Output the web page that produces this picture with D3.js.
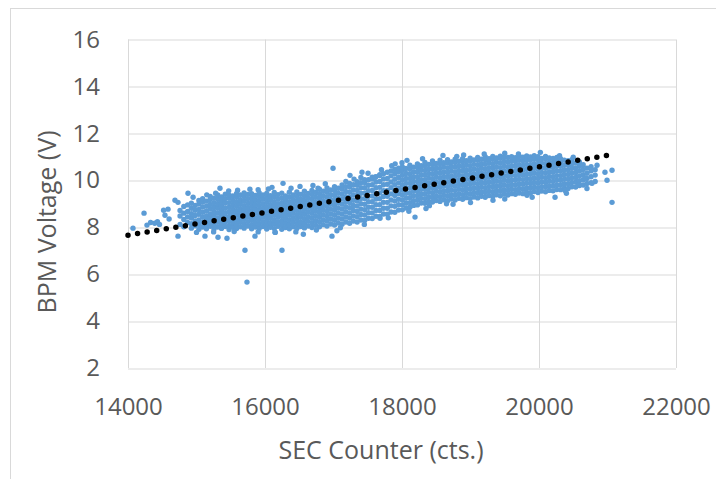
<!DOCTYPE html>
<html>
<head>
<meta charset="utf-8">
<script src="https://cdn.jsdelivr.net/npm/d3@7"></script>
<style>
  body { margin: 0; background: #fff; }
  text { font-family: "Open Sans", sans-serif; fill: #595959; }
</style>
</head>
<body>
<div id="chart"></div>
<script>
// x ticks / y ticks
var xTicks = [14000, 16000, 18000, 20000, 22000];
var yTicks = [2, 4, 6, 8, 10, 12, 14, 16];

// dense part of the cloud, read column by column: "counter|voltages..."
var cloudColumns = [
  "14760|8.12 8.48 8.71",
  "14815|8.02 8.33 8.60 8.88",
  "14870|8.20 8.44 8.67 8.95",
  "14925|7.96 8.15 8.39 8.58 8.81 9.02",
  "14980|8.06 8.27 8.50 8.72 8.93",
  "15035|7.91 8.12 8.31 8.55 8.76 8.99 9.14",
  "15090|8.01 8.22 8.43 8.64 8.86 9.07 9.22",
  "15145|7.93 8.09 8.29 8.48 8.69 8.90 9.11",
  "15200|8.04 8.19 8.38 8.57 8.78 8.97 9.18 9.31",
  "15255|7.92 8.11 8.30 8.50 8.67 8.86 9.05 9.24",
  "15310|8.01 8.21 8.40 8.60 8.81 9.00 9.19 9.38",
  "15365|7.95 8.14 8.33 8.52 8.71 8.91 9.10 9.29",
  "15420|8.03 8.23 8.43 8.62 8.82 9.03 9.22 9.41",
  "15475|7.90 8.08 8.27 8.46 8.66 8.85 9.05 9.25 9.36",
  "15530|8.00 8.18 8.37 8.57 8.76 8.95 9.14 9.33",
  "15585|7.94 8.12 8.31 8.51 8.70 8.89 9.08 9.28 9.44",
  "15640|8.02 8.21 8.41 8.60 8.79 8.98 9.17 9.37",
  "15695|7.96 8.15 8.34 8.54 8.73 8.92 9.12 9.31 9.46",
  "15750|8.05 8.24 8.44 8.63 8.82 9.01 9.21 9.40",
  "15805|7.93 8.11 8.30 8.49 8.69 8.88 9.07 9.26 9.43",
  "15860|8.01 8.20 8.39 8.59 8.78 8.97 9.16 9.35",
  "15915|7.95 8.14 8.33 8.53 8.72 8.91 9.10 9.30 9.47",
  "15970|8.03 8.22 8.42 8.61 8.80 8.99 9.19 9.38",
  "16025|7.92 8.10 8.29 8.48 8.68 8.87 9.06 9.25 9.44",
  "16080|8.00 8.19 8.38 8.58 8.77 8.96 9.15 9.34",
  "16135|7.94 8.13 8.32 8.52 8.71 8.90 9.09 9.29 9.48",
  "16190|8.04 8.23 8.43 8.62 8.81 9.00 9.20 9.39",
  "16245|7.91 8.09 8.28 8.47 8.67 8.86 9.05 9.24 9.45",
  "16300|7.99 8.18 8.37 8.57 8.76 8.95 9.14 9.33",
  "16355|7.93 8.12 8.31 8.51 8.70 8.89 9.08 9.28 9.49",
  "16410|8.02 8.21 8.41 8.60 8.79 8.98 9.18 9.37",
  "16465|7.95 8.14 8.33 8.53 8.72 8.92 9.11 9.31 9.50",
  "16520|8.03 8.22 8.42 8.62 8.81 9.01 9.20 9.40",
  "16575|7.97 8.16 8.36 8.55 8.75 8.95 9.14 9.34 9.53",
  "16630|8.05 8.25 8.45 8.65 8.85 9.04 9.24 9.44",
  "16685|7.99 8.19 8.39 8.59 8.79 8.99 9.19 9.39 9.57",
  "16740|8.08 8.28 8.48 8.68 8.88 9.08 9.28 9.48",
  "16795|8.02 8.22 8.42 8.63 8.83 9.03 9.23 9.43 9.62",
  "16850|8.11 8.31 8.52 8.72 8.93 9.13 9.33 9.53",
  "16905|8.05 8.26 8.46 8.67 8.88 9.08 9.29 9.49 9.67",
  "16960|8.14 8.35 8.56 8.77 8.98 9.18 9.39 9.59",
  "17015|8.09 8.30 8.51 8.72 8.93 9.14 9.35 9.56 9.73",
  "17070|8.18 8.39 8.61 8.82 9.03 9.24 9.45 9.66",
  "17125|8.13 8.35 8.56 8.78 8.99 9.21 9.42 9.63 9.80",
  "17180|8.22 8.44 8.66 8.87 9.09 9.30 9.52 9.73",
  "17235|8.17 8.39 8.61 8.83 9.05 9.27 9.49 9.71 9.87",
  "17290|8.26 8.48 8.71 8.93 9.15 9.37 9.59 9.81",
  "17345|8.22 8.45 8.67 8.90 9.12 9.35 9.57 9.79 9.94",
  "17400|8.31 8.54 8.77 9.00 9.22 9.45 9.68 9.90",
  "17455|8.29 8.52 8.75 8.98 9.22 9.45 9.68 9.91 10.02",
  "17510|8.38 8.62 8.85 9.09 9.32 9.56 9.79 10.02",
  "17565|8.37 8.61 8.85 9.09 9.33 9.57 9.81 10.05 10.13",
  "17620|8.47 8.71 8.96 9.20 9.44 9.68 9.93 10.15",
  "17675|8.46 8.71 8.96 9.21 9.46 9.70 9.95 10.20 10.24",
  "17730|8.56 8.81 9.06 9.31 9.56 9.81 10.06 10.28",
  "17785|8.55 8.81 9.06 9.32 9.57 9.83 10.08 10.34",
  "17840|8.65 8.91 9.16 9.42 9.68 9.93 10.19 10.40",
  "17895|8.64 8.89 9.12 9.35 9.58 9.81 10.04 10.27 10.46",
  "17950|8.73 8.96 9.19 9.43 9.66 9.89 10.12 10.35 10.52",
  "18005|8.74 8.95 9.16 9.37 9.58 9.79 10.00 10.21 10.42 10.57",
  "18060|8.82 9.03 9.24 9.45 9.66 9.87 10.08 10.29 10.50",
  "18115|8.85 9.05 9.26 9.46 9.67 9.87 10.08 10.28 10.49 10.64",
  "18170|8.93 9.13 9.34 9.54 9.74 9.95 10.15 10.35 10.56",
  "18225|8.95 9.15 9.35 9.55 9.75 9.95 10.15 10.35 10.55 10.70",
  "18280|9.03 9.23 9.43 9.63 9.83 10.03 10.23 10.43 10.62",
  "18335|9.02 9.22 9.42 9.62 9.82 10.02 10.22 10.42 10.62 10.76",
  "18390|9.10 9.29 9.49 9.69 9.89 10.09 10.29 10.49 10.68",
  "18445|9.07 9.27 9.47 9.67 9.87 10.07 10.27 10.47 10.67 10.82",
  "18500|9.14 9.33 9.53 9.73 9.93 10.13 10.33 10.53 10.72",
  "18555|9.10 9.30 9.50 9.70 9.90 10.10 10.30 10.50 10.70 10.86",
  "18610|9.17 9.36 9.56 9.76 9.96 10.16 10.36 10.56 10.75",
  "18665|9.13 9.33 9.53 9.73 9.93 10.13 10.33 10.53 10.73 10.88",
  "18720|9.20 9.39 9.59 9.79 9.99 10.19 10.39 10.59 10.78",
  "18775|9.16 9.36 9.56 9.76 9.96 10.16 10.36 10.56 10.76 10.90",
  "18830|9.23 9.42 9.62 9.82 10.02 10.22 10.42 10.62 10.81",
  "18885|9.19 9.39 9.59 9.79 9.99 10.19 10.39 10.59 10.79 10.92",
  "18940|9.26 9.45 9.65 9.85 10.05 10.25 10.45 10.65 10.84",
  "18995|9.22 9.42 9.62 9.82 10.02 10.22 10.42 10.62 10.82 10.94",
  "19050|9.29 9.48 9.68 9.88 10.08 10.28 10.48 10.68 10.87",
  "19105|9.25 9.45 9.65 9.85 10.05 10.25 10.45 10.65 10.85 10.97",
  "19160|9.32 9.51 9.71 9.91 10.11 10.31 10.51 10.71 10.90",
  "19215|9.28 9.48 9.68 9.88 10.08 10.28 10.48 10.68 10.88 11.00",
  "19270|9.35 9.54 9.74 9.94 10.14 10.34 10.54 10.74 10.92",
  "19325|9.31 9.51 9.71 9.91 10.11 10.31 10.51 10.71 10.91 11.02",
  "19380|9.38 9.57 9.77 9.97 10.17 10.37 10.57 10.77 10.95",
  "19435|9.34 9.54 9.74 9.94 10.14 10.34 10.54 10.74 10.94 11.03",
  "19490|9.41 9.60 9.80 10.00 10.20 10.40 10.60 10.80 10.98",
  "19545|9.37 9.57 9.77 9.97 10.17 10.37 10.57 10.77 10.97",
  "19600|9.43 9.62 9.82 10.02 10.22 10.42 10.62 10.82 11.01",
  "19655|9.40 9.60 9.80 10.00 10.20 10.40 10.60 10.80 10.96",
  "19710|9.46 9.65 9.85 10.05 10.25 10.45 10.65 10.85 11.03",
  "19765|9.43 9.63 9.83 10.03 10.23 10.43 10.63 10.83 10.98",
  "19820|9.49 9.68 9.88 10.08 10.28 10.48 10.68 10.88 11.04",
  "19875|9.46 9.66 9.86 10.06 10.26 10.46 10.66 10.86 10.99",
  "19930|9.52 9.71 9.91 10.11 10.31 10.51 10.71 10.91 11.05",
  "19985|9.48 9.68 9.88 10.08 10.28 10.48 10.68 10.88 11.00",
  "20040|9.54 9.73 9.93 10.13 10.33 10.53 10.73 10.93",
  "20095|9.51 9.71 9.91 10.11 10.31 10.51 10.71 10.91 11.02",
  "20150|9.57 9.76 9.96 10.16 10.36 10.56 10.76 10.95",
  "20205|9.55 9.75 9.95 10.15 10.35 10.55 10.75 10.93",
  "20260|9.61 9.80 10.00 10.20 10.40 10.60 10.80 10.97",
  "20315|9.60 9.80 10.00 10.20 10.40 10.60 10.80 10.92",
  "20370|9.66 9.85 10.05 10.25 10.45 10.65 10.86",
  "20425|9.65 9.85 10.05 10.25 10.45 10.65 10.84",
  "20480|9.72 9.91 10.11 10.31 10.51 10.71 10.88",
  "20535|9.71 9.92 10.12 10.33 10.53 10.74",
  "20590|9.78 9.98 10.19 10.40 10.60 10.78",
  "20645|9.80 10.02 10.24 10.46 10.66",
  "20700|9.86 10.08 10.30 10.52",
  "20760|9.90 10.15 10.40 10.58",
  "20820|9.95 10.22 10.45"
];

// loose points around the edges of the cloud
var strayX = [14073, 14234, 14277, 14330, 14390, 14430, 14460, 14520, 14540, 14584, 14600, 14686, 14730, 14876, 14950,
  14730, 15124, 15314, 15445, 15708, 15737, 15343, 15854, 16993, 17241, 17416, 17504, 17606, 16248, 16978, 16146,
  16263, 16102, 16511, 16774, 16560, 17050, 18598, 18073, 18190, 17679, 18745, 19328, 18350, 19825, 20234, 20963,
  21066, 20993, 21066, 20774, 20847, 20672, 20569, 20380, 20020, 19500, 18900, 17900, 17300,
  15150, 15280, 15470, 15600, 15780, 15900, 16050, 16380, 16700, 16880, 17180, 17400, 17700, 17850, 18000, 18300,
  18800, 19200, 19700, 20300, 20500,
  15000, 15250, 15550, 15900, 16150, 16450, 16750, 17100, 17450, 17800, 18100, 18400, 18650, 19000, 19500, 19900,
  20400, 20700];
var strayY = [7.96, 8.60, 8.09, 8.20, 8.17, 8.24, 8.12, 8.72, 8.51, 8.77, 8.35, 9.15, 9.06, 9.45, 9.28,
  7.62, 7.62, 7.57, 7.53, 7.02, 5.66, 9.66, 7.62, 10.51, 10.21, 10.34, 10.30, 10.13, 7.02, 7.62, 7.79,
  9.87, 9.70, 9.74, 9.66, 7.70, 7.85, 11.06, 10.85, 8.43, 8.38, 8.98, 9.15, 8.80, 9.36, 9.28, 10.34,
  10.43, 10.00, 9.06, 9.87, 10.64, 10.09, 9.79, 9.57, 11.19, 11.15, 11.08, 10.70, 10.05,
  9.38, 9.45, 9.55, 9.58, 9.62, 9.60, 9.63, 9.66, 9.78, 9.85, 9.95, 10.12, 10.45, 10.62, 10.75, 10.92,
  11.02, 11.12, 11.12, 11.05, 10.98,
  7.78, 7.80, 7.82, 7.80, 7.78, 7.80, 7.88, 7.98, 8.12, 8.40, 8.68, 8.92, 9.00, 9.05, 9.20, 9.28,
  9.45, 9.65];

// linear trend line
var trendX = [14000, 21000];
var trendY = [7.66, 11.06];

var W = 716, H = 479;
var margin = {top: 39.5, right: 40, bottom: 111, left: 128};
var width = 676 - margin.left,
    height = 368 - margin.top;

var svg = d3.select("#chart")
    .append("svg")
    .attr("width", W)
    .attr("height", H);

// outer chart frame
svg.append("rect")
    .attr("x", 10.5).attr("y", 8.5)
    .attr("width", W + 10).attr("height", H + 10)
    .attr("fill", "#fff")
    .attr("stroke", "#d9d9d9");

var g = svg.append("g")
    .attr("transform", "translate(" + margin.left + "," + margin.top + ")");

var x = d3.scaleLinear().domain([14000, 22000]).range([0, width]);
var y = d3.scaleLinear().domain([2, 16]).range([height, 0]);

// gridlines
g.selectAll(".hgrid")
    .data(yTicks)
    .enter().append("line")
    .attr("x1", 0).attr("x2", width)
    .attr("y1", function (d) { return Math.round(y(d)) + 0.5; })
    .attr("y2", function (d) { return Math.round(y(d)) + 0.5; })
    .attr("stroke", "#d9d9d9");
g.selectAll(".vgrid")
    .data(xTicks)
    .enter().append("line")
    .attr("y1", 0).attr("y2", height)
    .attr("x1", function (d) { return Math.round(x(d)) + 0.5; })
    .attr("x2", function (d) { return Math.round(x(d)) + 0.5; })
    .attr("stroke", "#d9d9d9");

// axes (labels only)
var xAxis = g.append("g")
    .attr("transform", "translate(0," + height + ")")
    .call(d3.axisBottom(x).tickValues(xTicks).tickSize(0).tickPadding(30).tickFormat(d3.format("d")));
var yAxis = g.append("g")
    .call(d3.axisLeft(y).tickValues(yTicks).tickSize(0).tickPadding(28));
[xAxis, yAxis].forEach(function (a) {
    a.select(".domain").remove();
    a.selectAll("text")
        .style("font-family", "'Open Sans', sans-serif")
        .style("font-size", "24px")
        .attr("fill", "#595959");
});

// build the point list
var points = [];
cloudColumns.forEach(function (row) {
    var parts = row.split("|");
    var cx = +parts[0];
    parts[1].split(" ").forEach(function (v) {
        points.push({sec: cx, volt: +v});
    });
});
strayX.forEach(function (d, i) {
    points.push({sec: d, volt: strayY[i]});
});

g.append("g")
    .selectAll("circle")
    .data(points)
    .enter()
    .append("circle")
    .attr("cx", function (d) { return x(d.sec); })
    .attr("cy", function (d) { return y(d.volt); })
    .attr("r", 2.7)
    .style("fill", "#5b9bd5");

// dotted trend line
var line = d3.line()
    .x(function (d) { return x(d[0]); })
    .y(function (d) { return y(d[1]); });
g.append("path")
    .datum(trendX.map(function (d, i) { return [d, trendY[i]]; }))
    .attr("d", line)
    .attr("fill", "none")
    .attr("stroke", "#000")
    .attr("stroke-width", 5.5)
    .attr("stroke-linecap", "round")
    .attr("stroke-dasharray", "0,9.7");

// axis titles
svg.append("text")
    .attr("x", 381)
    .attr("y", 459)
    .attr("text-anchor", "middle")
    .style("font-size", "25px")
    .text("SEC Counter (cts.)");

svg.append("text")
    .attr("transform", "translate(56,222) rotate(-90)")
    .attr("text-anchor", "middle")
    .style("font-size", "25px")
    .text("BPM Voltage (V)");
</script>
</body>
</html>
